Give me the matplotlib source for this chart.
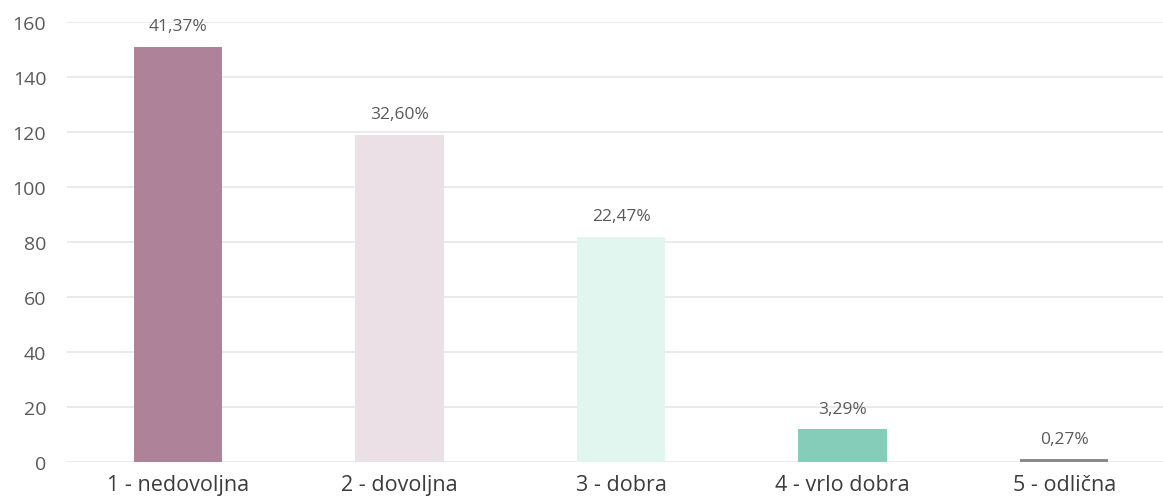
import matplotlib
matplotlib.use('Agg')
import matplotlib.pyplot as plt

# Podaci
kategorije = ['1 - nedovoljna', '2 - dovoljna', '3 - dobra', '4 - vrlo dobra', '5 - odlična']
broj = [151, 119, 82, 12, 1]
postotci = ['41,37%', '32,60%', '22,47%', '3,29%', '0,27%']
boje = ['#AE8399', '#EBE0E6', '#E0F6EF', '#86CDB9', '#8A8A8A']

plt.rcParams['font.family'] = ['Open Sans', 'DejaVu Sans']

fig = plt.figure(figsize=(11.63, 5.02), dpi=100)
ax = fig.add_axes([0.0577, 0.0777, 0.9423, 0.8763])

x = range(len(kategorije))
ax.bar(x, broj, width=0.40, color=boje, zorder=2)

# Oznake postotaka iznad stupaca
for i, (v, p) in enumerate(zip(broj, postotci)):
    ax.text(i, v + 4.5, p, ha='center', va='bottom', fontsize=12.5, color='#5a5a5a')

ax.set_ylim(0, 160)
ax.set_xlim(-0.5, 4.446)
ax.set_yticks(range(0, 161, 20))
ax.set_xticks(list(x))
ax.set_xticklabels(kategorije, fontsize=15.5, color='#3c3c3c')
ax.tick_params(axis='y', labelsize=14, labelcolor='#5a5a5a', length=0, pad=15)
ax.tick_params(axis='x', length=0, pad=9)

ax.grid(axis='y', color='#E6E6E6', linewidth=1.2, zorder=0)
for s in ax.spines.values():
    s.set_visible(False)

fig.savefig('out.png', dpi=100)
